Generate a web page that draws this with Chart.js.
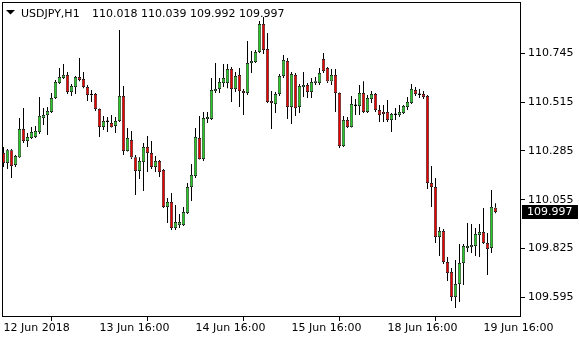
<!DOCTYPE html>
<html>
<head>
<meta charset="utf-8">
<script src="https://cdn.jsdelivr.net/npm/chart.js@4/dist/chart.umd.min.js"></script>
<style>
  html, body { margin: 0; padding: 0; background: #fff; }
  canvas { display: block; }
</style>
</head>
<body>
<canvas id="grafico" width="580" height="340"></canvas>
<script>
/* =================== Dados (USDJPY H1) =================== */
const simbolo = "USDJPY,H1";
const ohlcTitulo = ["110.018", "110.039", "109.992", "109.997"];

const abertura = [
  110.275, 110.228, 110.289, 110.219, 110.256, 110.388, 110.332, 110.346, 110.351, 110.374,
  110.440, 110.454, 110.469, 110.534, 110.605, 110.629, 110.643, 110.563, 110.586, 110.633,
  110.624, 110.586, 110.549, 110.553, 110.483, 110.398, 110.422, 110.417, 110.403, 110.426,
  110.544, 110.285, 110.337, 110.256, 110.191, 110.233, 110.304, 110.275, 110.210, 110.238,
  110.195, 110.021, 110.045, 109.922, 109.936, 109.936, 109.993, 110.115, 110.167, 110.346,
  110.247, 110.436, 110.436, 110.567, 110.577, 110.605, 110.605, 110.671, 110.577, 110.643,
  110.567, 110.558, 110.699, 110.704, 110.751, 110.883, 110.765, 110.520, 110.506, 110.553,
  110.638, 110.709, 110.492, 110.643, 110.492, 110.586, 110.596, 110.563, 110.605, 110.605,
  110.718, 110.676, 110.614, 110.643, 110.558, 110.308, 110.431, 110.398, 110.497, 110.497,
  110.558, 110.469, 110.530, 110.553, 110.478, 110.469, 110.469, 110.431, 110.454, 110.454,
  110.464, 110.492, 110.511, 110.572, 110.549, 110.553, 110.544, 110.134, 110.115, 109.880,
  109.908, 109.762, 109.715, 109.597, 109.658, 109.757, 109.828, 109.833, 109.837, 109.889,
  109.903, 109.851, 109.828, 110.018
];
const maxima = [
  110.304, 110.294, 110.294, 110.266, 110.440, 110.487, 110.370, 110.398, 110.403, 110.539,
  110.487, 110.492, 110.558, 110.619, 110.676, 110.695, 110.657, 110.600, 110.638, 110.723,
  110.657, 110.596, 110.572, 110.558, 110.485, 110.450, 110.445, 110.454, 110.445, 110.855,
  110.591, 110.393, 110.379, 110.266, 110.256, 110.322, 110.355, 110.332, 110.261, 110.242,
  110.200, 110.063, 110.087, 110.030, 109.988, 110.021, 110.134, 110.224, 110.393, 110.450,
  110.469, 110.469, 110.629, 110.699, 110.629, 110.695, 110.695, 110.680, 110.657, 110.676,
  110.577, 110.803, 110.756, 110.761, 110.897, 110.916, 110.841, 110.567, 110.563, 110.647,
  110.737, 110.723, 110.657, 110.652, 110.600, 110.657, 110.605, 110.629, 110.633, 110.676,
  110.746, 110.680, 110.671, 110.671, 110.560, 110.450, 110.445, 110.544, 110.530, 110.596,
  110.614, 110.549, 110.567, 110.558, 110.501, 110.501, 110.525, 110.464, 110.487, 110.501,
  110.501, 110.539, 110.600, 110.586, 110.577, 110.567, 110.549, 110.214, 110.158, 109.927,
  109.918, 109.786, 109.734, 109.771, 109.847, 109.847, 109.946, 109.941, 109.922, 109.941,
  110.016, 109.899, 110.101, 110.039
];
const minimas = [
  110.210, 110.200, 110.158, 110.210, 110.252, 110.322, 110.304, 110.341, 110.346, 110.365,
  110.407, 110.360, 110.464, 110.530, 110.600, 110.624, 110.553, 110.544, 110.553, 110.614,
  110.581, 110.520, 110.516, 110.473, 110.351, 110.384, 110.374, 110.396, 110.370, 110.421,
  110.266, 110.283, 110.247, 110.078, 110.153, 110.096, 110.186, 110.200, 110.186, 110.163,
  110.016, 109.946, 109.913, 109.913, 109.922, 109.932, 109.988, 110.049, 110.158, 110.245,
  110.238, 110.417, 110.431, 110.558, 110.558, 110.586, 110.581, 110.516, 110.563, 110.492,
  110.454, 110.549, 110.652, 110.699, 110.746, 110.742, 110.511, 110.388, 110.464, 110.544,
  110.629, 110.436, 110.412, 110.450, 110.464, 110.539, 110.534, 110.534, 110.596, 110.596,
  110.652, 110.605, 110.596, 110.469, 110.299, 110.304, 110.393, 110.396, 110.454, 110.454,
  110.464, 110.464, 110.511, 110.469, 110.421, 110.421, 110.421, 110.374, 110.431, 110.445,
  110.459, 110.478, 110.506, 110.544, 110.534, 110.530, 110.106, 110.021, 109.851, 109.790,
  109.753, 109.672, 109.578, 109.545, 109.574, 109.654, 109.809, 109.804, 109.790, 109.786,
  109.847, 109.701, 109.804, 109.992
];
const fechamento = [
  110.228, 110.289, 110.214, 110.261, 110.388, 110.332, 110.351, 110.374, 110.379, 110.450,
  110.454, 110.473, 110.534, 110.610, 110.633, 110.643, 110.563, 110.591, 110.633, 110.619,
  110.586, 110.549, 110.547, 110.483, 110.398, 110.426, 110.426, 110.398, 110.426, 110.544,
  110.285, 110.346, 110.256, 110.191, 110.238, 110.304, 110.275, 110.210, 110.238, 110.186,
  110.021, 110.045, 109.922, 109.950, 109.950, 109.997, 110.115, 110.172, 110.351, 110.247,
  110.440, 110.445, 110.572, 110.577, 110.610, 110.629, 110.671, 110.577, 110.638, 110.567,
  110.558, 110.699, 110.709, 110.751, 110.883, 110.761, 110.516, 110.511, 110.553, 110.638,
  110.713, 110.492, 110.647, 110.487, 110.591, 110.596, 110.563, 110.610, 110.614, 110.652,
  110.662, 110.614, 110.643, 110.558, 110.308, 110.431, 110.398, 110.506, 110.501, 110.558,
  110.469, 110.534, 110.553, 110.478, 110.454, 110.459, 110.431, 110.459, 110.459, 110.469,
  110.497, 110.516, 110.577, 110.553, 110.553, 110.539, 110.134, 110.115, 109.880, 109.908,
  109.762, 109.710, 109.597, 109.658, 109.757, 109.837, 109.837, 109.842, 109.894, 109.903,
  109.851, 109.823, 110.021, 109.997
];

// eixo de tempo: índice da barra -> rótulo
const tempoIdx = [0, 24, 48, 72, 96, 120];
const tempoRot = ["12 Jun 2018", "13 Jun 16:00", "14 Jun 16:00", "15 Jun 16:00", "18 Jun 16:00", "19 Jun 16:00"];
// eixo de preço
const precoTicks = [109.595, 109.825, 110.055, 110.285, 110.515, 110.745];

/* =================== Estilo =================== */
const VERDE = "rgb(40,200,40)";
const VERMELHO = "rgb(235,0,0)";
const FONTE = "DejaVu Sans";

Chart.defaults.font.family = FONTE;
Chart.defaults.font.size = 11;
Chart.defaults.color = "#000";

const corpos = abertura.map((o, i) => ({ x: i, y: [o, fechamento[i]] }));
// pavios separados (acima e abaixo do corpo)
const paviosSup = maxima.map((h, i) => ({ x: i, y: [Math.max(abertura[i], fechamento[i]), h] }));
const paviosInf = minimas.map((l, i) => ({ x: i, y: [l, Math.min(abertura[i], fechamento[i])] }));
const corDoCorpo = (ctx) => {
  const i = ctx.dataIndex;
  return fechamento[i] >= abertura[i] ? VERDE : VERMELHO;
};

const pavio = (label, data) => ({
  label, data, order: 1,
  backgroundColor: "#000", borderWidth: 0,
  barThickness: 1, grouped: false, inflateAmount: 0
});

/* --------------- plugin: moldura, título, preço atual --------------- */
const extrasMT4 = {
  id: "extrasMT4",
  beforeDraw(chart){
    const c = chart.ctx;
    c.save();
    c.fillStyle = "#fff";
    c.fillRect(0, 0, chart.width, chart.height);
    c.restore();
  },
  afterDraw(chart){
    const c = chart.ctx;
    const a = chart.chartArea;
    c.save();
    // moldura
    c.strokeStyle = "#000";
    c.lineWidth = 1;
    c.strokeRect(a.left - 0.5, a.top - 0.5, a.right - a.left, a.bottom - a.top);

    // título
    c.fillStyle = "#000";
    c.beginPath();
    c.moveTo(6, 10); c.lineTo(15, 10); c.lineTo(10.5, 14.5); c.closePath();
    c.fill();
    c.font = "11px " + FONTE;
    c.textBaseline = "alphabetic";
    c.textAlign = "left";
    c.fillText(simbolo, 21, 17);
    c.fillText(ohlcTitulo.join(" "), 92, 17);

    // caixa do último preço
    const ultimo = fechamento[fechamento.length - 1];
    const y = Math.round(chart.scales.y.getPixelForValue(ultimo));
    c.fillStyle = "#000";
    c.fillRect(a.right + 1, y - 7, 56, 14);
    c.fillStyle = "#fff";
    c.textBaseline = "middle";
    c.fillText(ultimo.toFixed(3), a.right + 6, y + 0.5);
    c.restore();
  }
};

new Chart(document.getElementById("grafico"), {
  type: "bar",
  data: {
    datasets: [
      {
        label: "corpo", data: corpos, order: 0,
        backgroundColor: corDoCorpo, borderColor: "#000", borderWidth: 0.75,
        borderSkipped: false, barThickness: 3.2, grouped: false, minBarLength: 1.5, inflateAmount: 0
      },
      pavio("pavio sup", paviosSup),
      pavio("pavio inf", paviosInf)
    ]
  },
  options: {
    responsive: false,
    devicePixelRatio: 1,
    animation: false,
    events: [],
    layout: { padding: { left: 3, top: 3, right: 0, bottom: 0 } },
    plugins: { legend: { display: false }, tooltip: { enabled: false }, colors: { enabled: false } },
    scales: {
      x: {
        type: "linear", offset: false,
        min: -0.125, max: 129.375,
        grid: { display: true, drawOnChartArea: false, drawTicks: true, tickLength: 4, color: "#000" },
        border: { display: false },
        ticks: {
          autoSkip: false, maxRotation: 0, align: "start", padding: 1,
          callback: (v) => tempoRot[tempoIdx.indexOf(v)] ?? ""
        },
        afterBuildTicks: (s) => { s.ticks = tempoIdx.map(v => ({ value: v })); },
        afterFit: (s) => { s.height = 23; s.paddingLeft = 0; s.paddingRight = 0; }
      },
      y: {
        position: "right",
        min: 109.503, max: 110.982,
        grid: { display: true, drawOnChartArea: false, drawTicks: true, tickLength: 4, color: "#000" },
        border: { display: false },
        ticks: { padding: 3, callback: (v) => Number(v).toFixed(3) },
        afterBuildTicks: (s) => { s.ticks = precoTicks.map(v => ({ value: v })); },
        afterFit: (s) => { s.width = 59; s.paddingTop = 0; s.paddingBottom = 0; }
      }
    }
  },
  plugins: [extrasMT4]
});
</script>
</body>
</html>
